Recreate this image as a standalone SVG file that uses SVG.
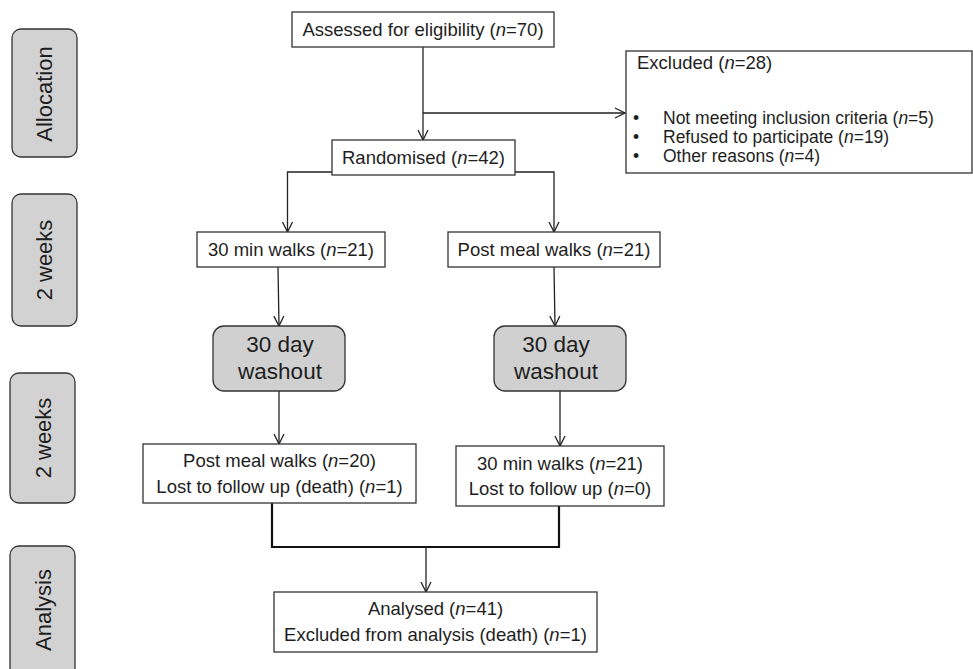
<svg xmlns="http://www.w3.org/2000/svg" width="973" height="669" viewBox="0 0 973 669">
<style>
text{font-family:"Liberation Sans",Arial,sans-serif;fill:#1e1e1e;font-size:18.5px}
.box{fill:#fff;stroke:#333;stroke-width:1.3}
.tab{fill:#d2d2d2;stroke:#333;stroke-width:1.3}
.wash{fill:#d0d0d0;stroke:#333;stroke-width:1.3}
.tabt{font-size:22px;text-anchor:middle}
.wt{font-size:22.5px;text-anchor:middle}
.c{text-anchor:middle}
.li{font-size:17.5px}
.ln{fill:none;stroke:#222;stroke-width:1.3}
.thick{fill:none;stroke:#111;stroke-width:2.2}
.i{font-style:italic}
</style>
<defs>
<marker id="ah" markerUnits="userSpaceOnUse" markerWidth="14" markerHeight="14" refX="11" refY="6" orient="auto">
<path d="M1,1 L11,6 L1,11" fill="none" stroke="#222" stroke-width="1.3"/>
</marker>
</defs>

<g id="tab-allocation"><rect class="tab" x="12" y="29" width="65" height="128" rx="9"/><text class="tabt" transform="translate(52,94) rotate(-90)">Allocation</text></g>
<g id="tab-2weeks-1"><rect class="tab" x="12" y="194" width="65" height="132" rx="9"/><text class="tabt" transform="translate(52,260) rotate(-90)">2 weeks</text></g>
<g id="tab-2weeks-2"><rect class="tab" x="10" y="373" width="65" height="130" rx="9"/><text class="tabt" transform="translate(51,438) rotate(-90)">2 weeks</text></g>
<g id="tab-analysis"><rect class="tab" x="10" y="546" width="65" height="150" rx="9"/><text class="tabt" transform="translate(51,610) rotate(-90)">Analysis</text></g>

<g id="connectors">
<path class="ln" d="M423,47 V140" marker-end="url(#ah)"/>
<path class="ln" d="M423,113 H625" marker-end="url(#ah)"/>
<path class="ln" d="M332,172 H287.5 V232" marker-end="url(#ah)"/>
<path class="ln" d="M515,172 H554 V232" marker-end="url(#ah)"/>
<path class="ln" d="M278,267 L279,326" marker-end="url(#ah)"/>
<path class="ln" d="M554,267 L555,326" marker-end="url(#ah)"/>
<path class="ln" d="M279,391 V444" marker-end="url(#ah)"/>
<path class="ln" d="M560,391 V446" marker-end="url(#ah)"/>
<path class="thick" d="M272,503 V547 H559 V506"/>
<path class="ln" d="M426,547 V592" marker-end="url(#ah)"/>
</g>

<g id="assessed"><rect class="box" x="292" y="12" width="262" height="35"/><text class="c" x="423" y="36">Assessed for eligibility (<tspan class="i">n</tspan>=70)</text></g>
<g id="excluded"><rect class="box" x="626" y="51" width="346" height="122"/>
<text x="637" y="69">Excluded (<tspan class="i">n</tspan>=28)</text>
<text class="li" x="633" y="124">•</text><text class="li" x="663" y="124">Not meeting inclusion criteria (<tspan class="i">n</tspan>=5)</text>
<text class="li" x="633" y="143">•</text><text class="li" x="663" y="143">Refused to participate (<tspan class="i">n</tspan>=19)</text>
<text class="li" x="633" y="162">•</text><text class="li" x="663" y="162">Other reasons (<tspan class="i">n</tspan>=4)</text>
</g>
<g id="randomised"><rect class="box" x="332" y="140" width="183" height="35"/><text class="c" x="423.5" y="164">Randomised (<tspan class="i">n</tspan>=42)</text></g>
<g id="walks30-1"><rect class="box" x="197" y="232" width="188" height="35"/><text class="c" x="291" y="256">30 min walks (<tspan class="i">n</tspan>=21)</text></g>
<g id="postmeal-1"><rect class="box" x="448" y="232" width="212" height="35"/><text class="c" x="554" y="256">Post meal walks (<tspan class="i">n</tspan>=21)</text></g>
<g id="washout-1"><rect class="wash" x="213" y="326" width="132" height="65" rx="11"/><text class="wt" x="280" y="352">30 day</text><text class="wt" x="280" y="379">washout</text></g>
<g id="washout-2"><rect class="wash" x="494" y="326" width="132" height="65" rx="11"/><text class="wt" x="556" y="352">30 day</text><text class="wt" x="556" y="379">washout</text></g>
<g id="postmeal-2"><rect class="box" x="143" y="444" width="273" height="59"/><text class="c" x="279.5" y="467">Post meal walks (<tspan class="i">n</tspan>=20)</text><text class="c" x="279.5" y="493">Lost to follow up (death) (<tspan class="i">n</tspan>=1)</text></g>
<g id="walks30-2"><rect class="box" x="456" y="446" width="208" height="60"/><text class="c" x="560" y="470">30 min walks (<tspan class="i">n</tspan>=21)</text><text class="c" x="560" y="495">Lost to follow up (<tspan class="i">n</tspan>=0)</text></g>
<g id="analysed"><rect class="box" x="274" y="592" width="323" height="60"/><text class="c" x="435.5" y="615">Analysed (<tspan class="i">n</tspan>=41)</text><text class="c" x="435.5" y="641">Excluded from analysis (death) (<tspan class="i">n</tspan>=1)</text></g>
</svg>
